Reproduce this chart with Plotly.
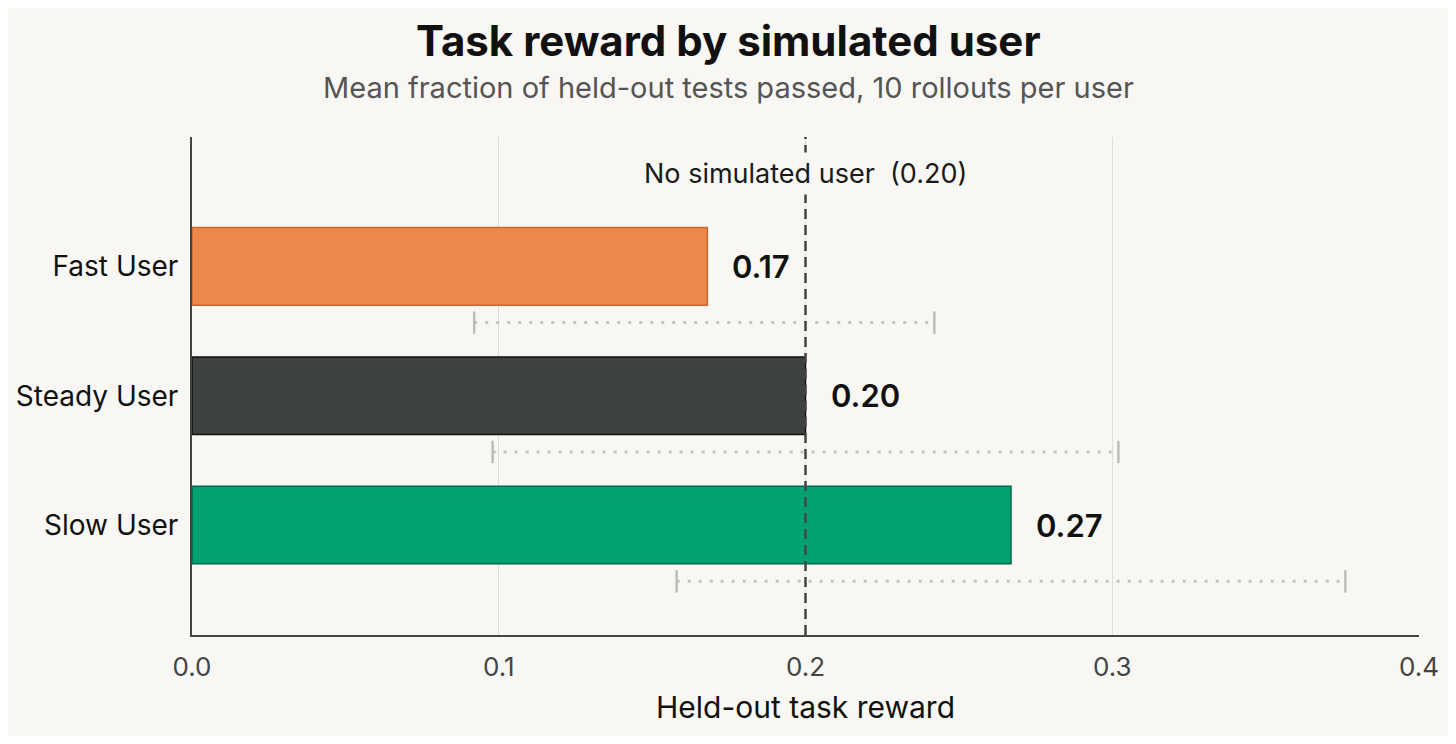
import plotly.graph_objects as go

# ── data ───────────────────────────────────────────────────────────────────────
users = ["Fast User", "Steady User", "Slow User"]
mean_reward = [0.168, 0.200, 0.267]
ci_low = [0.092, 0.098, 0.158]
ci_high = [0.242, 0.302, 0.376]
baseline = 0.20
baseline_label = "No simulated user  (0.20)"
title_text = "Task reward by simulated user"
subtitle_text = "Mean fraction of held-out tests passed, 10 rollouts per user"

bar_fill = ["#EE874B", "#3E423F", "#00A26F"]
bar_edge = ["#C8682E", "#111111", "#006B4A"]

BG = "#F8F7F3"
FONT = "Inter, Noto Sans, sans-serif"
ERR_OFFSET = 0.435      # spread line sits below its bar

# page has an 8px body margin, so the figure is drawn 16px smaller
W, H = 1440, 728
M = dict(l=184, r=29, t=129, b=101)
TITLE_X = (W / 2 - M["l"]) / (W - M["l"] - M["r"])   # centre of the page in paper units
PLOT_H = H - M["t"] - M["b"]

ypos = list(range(len(users)))

fig = go.Figure()

# ── bars ──────────────────────────────────────────────────────────────────────
fig.add_trace(go.Bar(
    x=mean_reward, y=ypos, orientation="h", width=0.6,
    marker=dict(color=bar_fill, line=dict(color=bar_edge, width=1.5)),
    showlegend=False, hoverinfo="skip",
))

# ── dotted spread lines with end caps ─────────────────────────────────────────
for i in ypos:
    y_err = i + ERR_OFFSET
    fig.add_trace(go.Scatter(
        x=[ci_low[i], ci_high[i]], y=[y_err, y_err], mode="lines",
        line=dict(color="#C4C3BE", width=3, dash="3px,8px"),
        showlegend=False, hoverinfo="skip",
    ))
    fig.add_trace(go.Scatter(
        x=[ci_low[i], ci_high[i]], y=[y_err, y_err], mode="markers",
        marker=dict(symbol="line-ns", size=16,
                    line=dict(color="#BDBCB7", width=2.5)),
        showlegend=False, hoverinfo="skip",
    ))

# ── baseline ──────────────────────────────────────────────────────────────────
fig.add_shape(
    type="line", xref="x", yref="paper", x0=baseline, x1=baseline, y0=0, y1=1,
    line=dict(color="#444444", width=2.5, dash="10px,6px"), layer="above",
)
fig.add_annotation(
    x=baseline, y=-0.72, xref="x", yref="y", text=baseline_label,
    showarrow=False, font=dict(family=FONT, size=27, color="#1A1A1A"),
    bgcolor=BG, borderpad=4,
)

# ── value labels ──────────────────────────────────────────────────────────────
for i, v in enumerate(mean_reward):
    fig.add_annotation(
        x=v, y=i, xref="x", yref="y", text=f"{v:.2f}", showarrow=False,
        xanchor="left", xshift=23,
        font=dict(family=FONT, size=31, color="#111111", weight=600),
    )

# ── title & subtitle ──────────────────────────────────────────────────────────
fig.add_annotation(
    x=TITLE_X, y=1 + 97 / PLOT_H, xref="paper", yref="paper", text=title_text,
    showarrow=False, yanchor="middle",
    font=dict(family=FONT, size=42, color="#111111", weight=700),
)
fig.add_annotation(
    x=TITLE_X, y=1 + 50 / PLOT_H, xref="paper", yref="paper", text=subtitle_text,
    showarrow=False, yanchor="middle",
    font=dict(family=FONT, size=29, color="#555555"),
)

fig.update_layout(
    width=W, height=H,
    paper_bgcolor=BG, plot_bgcolor=BG,
    margin=M,
    font=dict(family=FONT, color="#222222"),
    xaxis=dict(
        range=[0, 0.4], tickvals=[0, 0.1, 0.2, 0.3, 0.4], tickformat=".1f",
        automargin=False,
        showgrid=True, gridcolor="#DEDDD8", gridwidth=1,
        zeroline=False, showline=True, linecolor="#444444", linewidth=2,
        ticks="", ticklabelstandoff=8,
        tickfont=dict(family=FONT, size=26, color="#444444"),
        title=dict(text="Held-out task reward", standoff=16,
                   font=dict(family=FONT, size=30, color="#111111")),
    ),
    yaxis=dict(
        range=[2.85, -1.0], tickvals=ypos, ticktext=users,
        automargin=False,
        showgrid=False, zeroline=False, showline=True,
        linecolor="#444444", linewidth=2, ticks="", ticklabelstandoff=6,
        tickfont=dict(family=FONT, size=28, color="#111111"),
    ),
)

fig.write_html("out.html")
